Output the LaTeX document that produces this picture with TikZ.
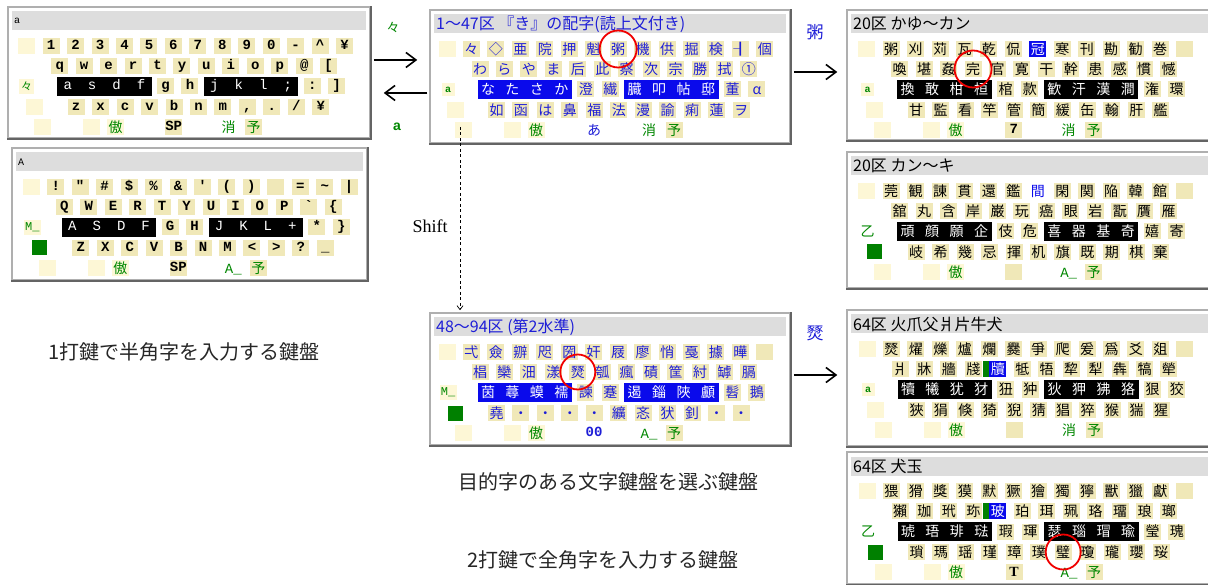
\documentclass[tikz,border=0pt]{standalone}
\usepackage{fontspec}
\setmainfont{Liberation Serif}
\newfontfamily\jp{Noto Sans CJK JP}
\newfontfamily\lm{Liberation Mono}
\newfontfamily\ls{Liberation Sans}
\usetikzlibrary{arrows.meta}
\definecolor{keyY}{RGB}{240,232,184}
\definecolor{blankY}{RGB}{253,247,214}
\definecolor{titleG}{RGB}{221,221,221}
\definecolor{blueT}{RGB}{30,30,215}
\definecolor{blueH}{RGB}{10,10,235}
\definecolor{greenT}{RGB}{0,135,0}
\definecolor{greenSq}{RGB}{0,128,0}
\definecolor{frameD}{RGB}{100,100,100}
\definecolor{frameL}{RGB}{175,175,175}
\definecolor{circR}{RGB}{240,0,0}
\def\KP{24.45}
\tikzset{
  kbase/.style={rectangle, minimum width=17pt, minimum height=16pt, inner sep=0pt},
  jfont/.style={font=\jp\fontsize{14}{14}\selectfont, text height=12.2pt, text depth=1.8pt},
  lfont/.style={font=\lm\bfseries\fontsize{14}{14}\selectfont, text height=9.6pt, text depth=2.6pt},
  kj/.style={kbase, jfont, fill=keyY, text=black},
  kjb/.style={kbase, jfont, fill=keyY, text=blueT},
  kjw/.style={kbase, jfont, text=white},
  kl/.style={kbase, lfont, fill=keyY, text=black},
  klw/.style={kbase, font=\lm\fontsize{14}{14}\selectfont, text height=9.6pt, text depth=2.6pt, text=white},
  kblank/.style={kbase, fill=blankY},
  kdark/.style={kbase, fill=keyY},
  kg/.style={kbase, jfont, text=greenT},
  gsq/.style={rectangle, inner sep=0pt, minimum width=15pt, minimum height=15pt, fill=greenSq},
  alab/.style={rectangle, inner sep=0pt, minimum width=13pt, minimum height=13pt, fill=blankY, text=greenT, font=\lm\bfseries\fontsize{10}{10}\selectfont},
  mlab/.style={rectangle, inner sep=0pt, minimum width=17pt, minimum height=15pt, fill=blankY, text=greenT, font=\lm\fontsize{12}{12}\selectfont},
  olab/.style={rectangle, inner sep=0pt, text=greenT, font=\jp\fontsize{14}{14}\selectfont},
  panelbox/.style={rectangle, draw=frameL, line width=1.5pt, fill=white, inner sep=0pt},
  arr/.style={line width=1.6pt, -{Straight Barb[length=10pt,width=15pt]}},
  shiftarr/.style={line width=0.7pt, dash pattern=on 3pt off 2.5pt, -{Straight Barb[length=4pt,width=6pt]}},
  redring/.style={circle, draw=circR, line width=1.8pt, minimum size=37pt, inner sep=0pt},
  captxt/.style={font=\jp\fontsize{20}{20}\selectfont, text=black!85, inner sep=0pt},
  ttl/.style={anchor=west, inner sep=0pt}
}
\newcommand\setXT[2]{\pgfmathsetmacro\X{#1}%
 \pgfmathsetmacro\ya{#2+39}\pgfmathsetmacro\yb{#2+59}%
 \pgfmathsetmacro\yc{#2+79.5}\pgfmathsetmacro\yd{#2+100}\pgfmathsetmacro\ye{#2+120}}
\newcommand\krow[5]{\foreach \kt [count=\ki from 0] in {#5}{\node[#2] (#1-\ki) at ({#3+\ki*\KP},#4) {\kt};}}
\newcommand\blk[3]{\fill[#1] ({#2-10.5},{#3-9.5}) rectangle ({#2+3*\KP+10.5},{#3+9.5});}
\newcommand\rowthree[8]{%
 \pgfmathsetmacro\xc{\X+41}%
 \blk{#2}{\xc}{\yc}\blk{#2}{\xc+6*\KP}{\yc}%
 \krow{#1a}{#3}{\xc}{\yc}{#5}%
 \krow{#1b}{#4}{\xc+4*\KP}{\yc}{#6}%
 \krow{#1c}{#3}{\xc+6*\KP}{\yc}{#7}%
 \krow{#1d}{#4}{\xc+10*\KP}{\yc}{#8}}
\newcommand\rowfive[4]{%
 \node[kblank] (#1-0) at (\X+16,\ye) {};
 \node[kblank] (#1-1) at (\X+65,\ye) {};
 \node[kg, fill=blankY] (#1-2) at (\X+89,\ye) {傲};
 \node[#2] (#1-3) at (\X+147,\ye) {#3};
 \node[kg] (#1-4) at (\X+202,\ye) {#4};
 \node[kg, fill=keyY] (#1-5) at (\X+227,\ye) {予};}
\newcommand\panel[6]{%
 \node[panelbox, minimum width={#4-#2}, minimum height={#5-#3}] (#1) at ({(#2+#4)/2},{(#3+#5)/2}) {};
 \draw[frameD, line width=2.2pt] (#1.north east) -- (#1.south east) -- (#1.south west);
 \fill[titleG] ({#2+4},{#3+4.5}) rectangle ({#4-4},{#3+23.5});
 \node[ttl] (#1-title) at ({#2+6},{#3+14}) {#6};}
\newcommand\jt{\jp\fontsize{16}{16}\selectfont}
\begin{document}
\begin{tikzpicture}[x=1pt,y=-1pt]
\useasboundingbox (0,0) rectangle (1208,585);
\fill[white] (0,0) rectangle (1208,585);

% ---------- panel A ----------
\panel{pA}{8}{7}{370}{138}{\lm\fontsize{10}{10}\selectfont a}
\setXT{26.7}{7}
\node[kblank] (pA-b1) at (\X,\ya) {};
\krow{pA-r1}{kl}{\X+\KP}{\ya}{1,2,3,4,5,6,7,8,9,0,-,\textasciicircum,¥}
\krow{pA-r2}{kl}{\X+33}{\yb}{q,w,e,r,t,y,u,i,o,p,@,[}
\node[olab, fill=blankY, minimum width=15pt, minimum height=15pt, font=\jp\fontsize{11}{11}\selectfont] (pA-l3) at (\X,\yc) {々};
\rowthree{pA-r3}{black}{klw}{kl}{a,s,d,f}{g,h}{j,k,l,;}{:,]}
\node[kblank] (pA-b4) at (\X+8,\yd) {};
\krow{pA-r4}{kl}{\X+49.5}{\yd}{z,x,c,v,b,n,m,{,},.,/,¥}
\rowfive{pA-r5}{kl}{SP}{消}

% ---------- panel B ----------
\panel{pB}{12}{148}{367}{280}{\lm\fontsize{10}{10}\selectfont A}
\setXT{31.3}{148}
\node[kblank] (pB-b1) at (\X,\ya) {};
\krow{pB-r1a}{kl}{\X+\KP}{\ya}{!,",\#,\$,\%,\&,\textquotesingle,{(},{)}}
\node[kdark] (pB-b1b) at (\X+10*\KP,\ya) {};
\krow{pB-r1b}{kl}{\X+11*\KP}{\ya}{=,\textasciitilde,|}
\krow{pB-r2}{kl}{\X+33}{\yb}{Q,W,E,R,T,Y,U,I,O,P,\textasciigrave,\{}
\node[mlab] (pB-l3) at (\X+1,\yc) {M\_};
\rowthree{pB-r3}{black}{klw}{kl}{A,S,D,F}{G,H}{J,K,L,+}{*,\}}
\node[gsq] (pB-g4) at (\X+8,\yd) {};
\krow{pB-r4}{kl}{\X+49.5}{\yd}{Z,X,C,V,B,N,M,<,>,?,\_}
\rowfive{pB-r5}{kl}{SP}{\lm A\_}

% ---------- middle top ----------
\panel{pM1}{430}{10}{790}{143}{\jt\color{blueT}1～47区 『き』の配字(読上文付き)}
\setXT{447}{10}
\node[kblank] (pM1-b1) at (\X,\ya) {};
\krow{pM1-r1}{kjb}{\X+\KP}{\ya}{々,◇,亜,院,押,魁,粥,機,供,掘,検,┨,個}
\krow{pM1-r2}{kjb}{\X+33}{\yb}{わ,ら,や,ま,后,此,察,次,宗,勝,拭,①}
\node[alab] (pM1-l3) at (\X+1,\yc) {a};
\rowthree{pM1-r3}{blueH}{kjw}{kjb}{な,た,さ,か}{澄,繊}{臓,叩,帖,邸}{董,α}
\node[kblank] (pM1-b4) at (\X+8,\yd) {};
\krow{pM1-r4}{kjb}{\X+49.5}{\yd}{如,函,は,鼻,福,法,漫,諭,痢,蓮,ヲ}
\rowfive{pM1-r5}{kbase, jfont, text=blueT}{あ}{消}

% ---------- middle bottom ----------
\panel{pM2}{430}{313}{790}{445}{\jt\color{blueT}48～94区 (第2水準)}
\setXT{447}{313}
\node[kblank] (pM2-b1) at (\X,\ya) {};
\krow{pM2-r1}{kjb}{\X+\KP}{\ya}{弌,僉,辧,咫,圀,奸,屐,廖,悄,戞,據,曄}
\node[kdark] (pM2-e1) at (\X+13*\KP,\ya) {};
\krow{pM2-r2}{kjb}{\X+33}{\yb}{椙,欒,沺,漾,燹,瓠,瘋,磧,筐,紂,罅,膈}
\node[mlab] (pM2-l3) at (\X+1,\yc) {M\_};
\rowthree{pM2-r3}{blueH}{kjw}{kjb}{茵,蕁,蟆,襦}{諫,蹇}{遏,錙,陜,顱}{髫,鵝}
\node[gsq] (pM2-g4) at (\X+8,\yd) {};
\krow{pM2-r4}{kjb}{\X+49.5}{\yd}{堯,・,・,・,・,纊,忞,犾,釗,・,・}
\rowfive{pM2-r5}{kbase, lfont, text=blueT}{00}{\lm A\_}

% ---------- right 1 ----------
\panel{pR1}{847}{10}{1212}{140}{\jt 20区 かゆ～カン}
\setXT{866.7}{10}
\node[kblank] (pR1-b1) at (\X,\ya) {};
\krow{pR1-r1}{kj}{\X+\KP}{\ya}{粥,刈,苅,瓦,乾,侃,冠,寒,刊,勘,勧,巻}
\node[kdark] (pR1-e1) at (\X+13*\KP,\ya) {};
\node[kbase, jfont, fill=blueH, text=white] (pR1-hl) at (\X+7*\KP,\ya) {冠};
\krow{pR1-r2}{kj}{\X+33}{\yb}{喚,堪,姦,完,官,寛,干,幹,患,感,慣,憾}
\node[alab] (pR1-l3) at (\X+1,\yc) {a};
\rowthree{pR1-r3}{black}{kjw}{kj}{換,敢,柑,桓}{棺,款}{歓,汗,漢,澗}{潅,環}
\node[kblank] (pR1-b4) at (\X+8,\yd) {};
\krow{pR1-r4}{kj}{\X+49.5}{\yd}{甘,監,看,竿,管,簡,緩,缶,翰,肝,艦}
\rowfive{pR1-r5}{kl}{7}{消}

% ---------- right 2 ----------
\panel{pR2}{847}{152}{1212}{288}{\jt 20区 カン～キ}
\setXT{866.7}{152}
\node[kblank] (pR2-b1) at (\X,\ya) {};
\krow{pR2-r1}{kj}{\X+\KP}{\ya}{莞,観,諌,貫,還,鑑,間,閑,関,陥,韓,館}
\node[kdark] (pR2-e1) at (\X+13*\KP,\ya) {};
\node[kbase, jfont, fill=white, text=blueH] (pR2-hl) at (\X+7*\KP,\ya) {間};
\krow{pR2-r2}{kj}{\X+33}{\yb}{舘,丸,含,岸,巌,玩,癌,眼,岩,翫,贋,雁}
\node[olab] (pR2-l3) at (\X+1,\yc) {乙};
\rowthree{pR2-r3}{black}{kjw}{kj}{頑,顔,願,企}{伎,危}{喜,器,基,奇}{嬉,寄}
\node[gsq] (pR2-g4) at (\X+8,\yd) {};
\krow{pR2-r4}{kj}{\X+49.5}{\yd}{岐,希,幾,忌,揮,机,旗,既,期,棋,棄}
\rowfive{pR2-r5}{kdark}{}{\lm A\_}

% ---------- right 3 ----------
\panel{pR3}{847}{310}{1212}{446}{\jt 64区 火爪父爿片牛犬}
\setXT{867}{310}
\node[kblank] (pR3-b1) at (\X,\ya) {};
\krow{pR3-r1}{kj}{\X+\KP}{\ya}{燹,燿,爍,爐,爛,爨,爭,爬,爰,爲,爻,爼}
\node[kdark] (pR3-e1) at (\X+13*\KP,\ya) {};
\krow{pR3-r2}{kj}{\X+33}{\yb}{爿,牀,牆,牋,牘,牴,牾,犂,犁,犇,犒,犖}
\node[kbase, jfont, fill=blueH, text=white] (pR3-hl) at (\X+33+4*\KP,\yb) {牘};
\fill[greenSq] (\X+33+4*\KP-14.5,\yb-8) rectangle (\X+33+4*\KP-8.5,\yb+8);
\node[alab] (pR3-l3) at (\X+1,\yc) {a};
\rowthree{pR3-r3}{black}{kjw}{kj}{犢,犧,犹,犲}{狃,狆}{狄,狎,狒,狢}{狠,狡}
\node[kblank] (pR3-b4) at (\X+8,\yd) {};
\krow{pR3-r4}{kj}{\X+49.5}{\yd}{狹,狷,倏,猗,猊,猜,猖,猝,猴,猯,猩}
\rowfive{pR3-r5}{kdark}{}{消}

% ---------- right 4 ----------
\panel{pR4}{847}{452}{1212}{584}{\jt 64区 犬玉}
\setXT{867}{452}
\node[kblank] (pR4-b1) at (\X,\ya) {};
\krow{pR4-r1}{kj}{\X+\KP}{\ya}{猥,猾,獎,獏,默,獗,獪,獨,獰,獸,獵,獻}
\node[kdark] (pR4-e1) at (\X+13*\KP,\ya) {};
\krow{pR4-r2}{kj}{\X+33}{\yb}{獺,珈,玳,珎,玻,珀,珥,珮,珞,璢,琅,瑯}
\node[kbase, jfont, fill=blueH, text=white] (pR4-hl) at (\X+33+4*\KP,\yb) {玻};
\fill[greenSq] (\X+33+4*\KP-14.5,\yb-8) rectangle (\X+33+4*\KP-8.5,\yb+8);
\node[olab] (pR4-l3) at (\X+1,\yc) {乙};
\rowthree{pR4-r3}{black}{kjw}{kj}{琥,珸,琲,琺}{瑕,琿}{瑟,瑙,瑁,瑜}{瑩,瑰}
\node[gsq] (pR4-g4) at (\X+8,\yd) {};
\krow{pR4-r4}{kj}{\X+49.5}{\yd}{瑣,瑪,瑶,瑾,璋,璞,璧,瓊,瓏,瓔,珱}
\rowfive{pR4-r5}{kbase, fill=keyY, font=\bfseries\fontsize{14}{14}\selectfont}{T}{\lm A\_}

% ---------- red rings ----------
\node[redring] (ring1) at (pM1-r1-6) {};
\node[redring] (ring2) at (pR1-r2-3) {};
\node[redring, minimum size=35pt] (ring3) at (pM2-r2-4) {};
\node[redring, minimum size=35pt] (ring4) at (pR4-r4-6) {};

% ---------- arrows ----------
\coordinate (yA1) at (0,60);
\coordinate (yA2) at (0,93);
\coordinate (yA3) at (0,72);
\coordinate (yA4) at (0,375);
\draw[arr, shorten <=3pt, shorten >=12pt] (pA.east |- yA1) -- (pM1.west |- yA1);
\draw[arr, shorten <=2pt, shorten >=13pt] (pM1.west |- yA2) -- (pA.east |- yA2);
\draw[arr, shorten <=3pt, shorten >=9pt] (pM1.east |- yA3) -- (pR1.west |- yA3);
\draw[arr, shorten <=3pt, shorten >=9pt] (pM2.east |- yA4) -- (pR3.west |- yA4);
\coordinate (sh) at (460,127);
\draw[shiftarr, shorten >=2pt] (sh) -- (sh |- pM2.north);

% ---------- labels ----------
\node[text=greenT, font=\jp\fontsize{13}{13}\selectfont] (lbl1) at (393,27) {々};
\node[text=greenT, font=\ls\bfseries\fontsize{14}{14}\selectfont] (lbl2) at (397,127) {a};
\node[text=blueT, font=\jp\fontsize{17}{17}\selectfont] (lbl3) at (815,32) {粥};
\node[text=blueT, font=\jp\fontsize{17}{17}\selectfont] (lbl4) at (815,333) {燹};
\node[font=\fontsize{18}{18}\selectfont] (lbl5) at (430,226) {Shift};

% ---------- captions ----------
\node[captxt] (cap1) at (184,352) {1打鍵で半角字を入力する鍵盤};
\node[captxt] (cap2) at (608,482) {目的字のある文字鍵盤を選ぶ鍵盤};
\node[captxt] (cap3) at (603,560) {2打鍵で全角字を入力する鍵盤};
\end{tikzpicture}
\end{document}
